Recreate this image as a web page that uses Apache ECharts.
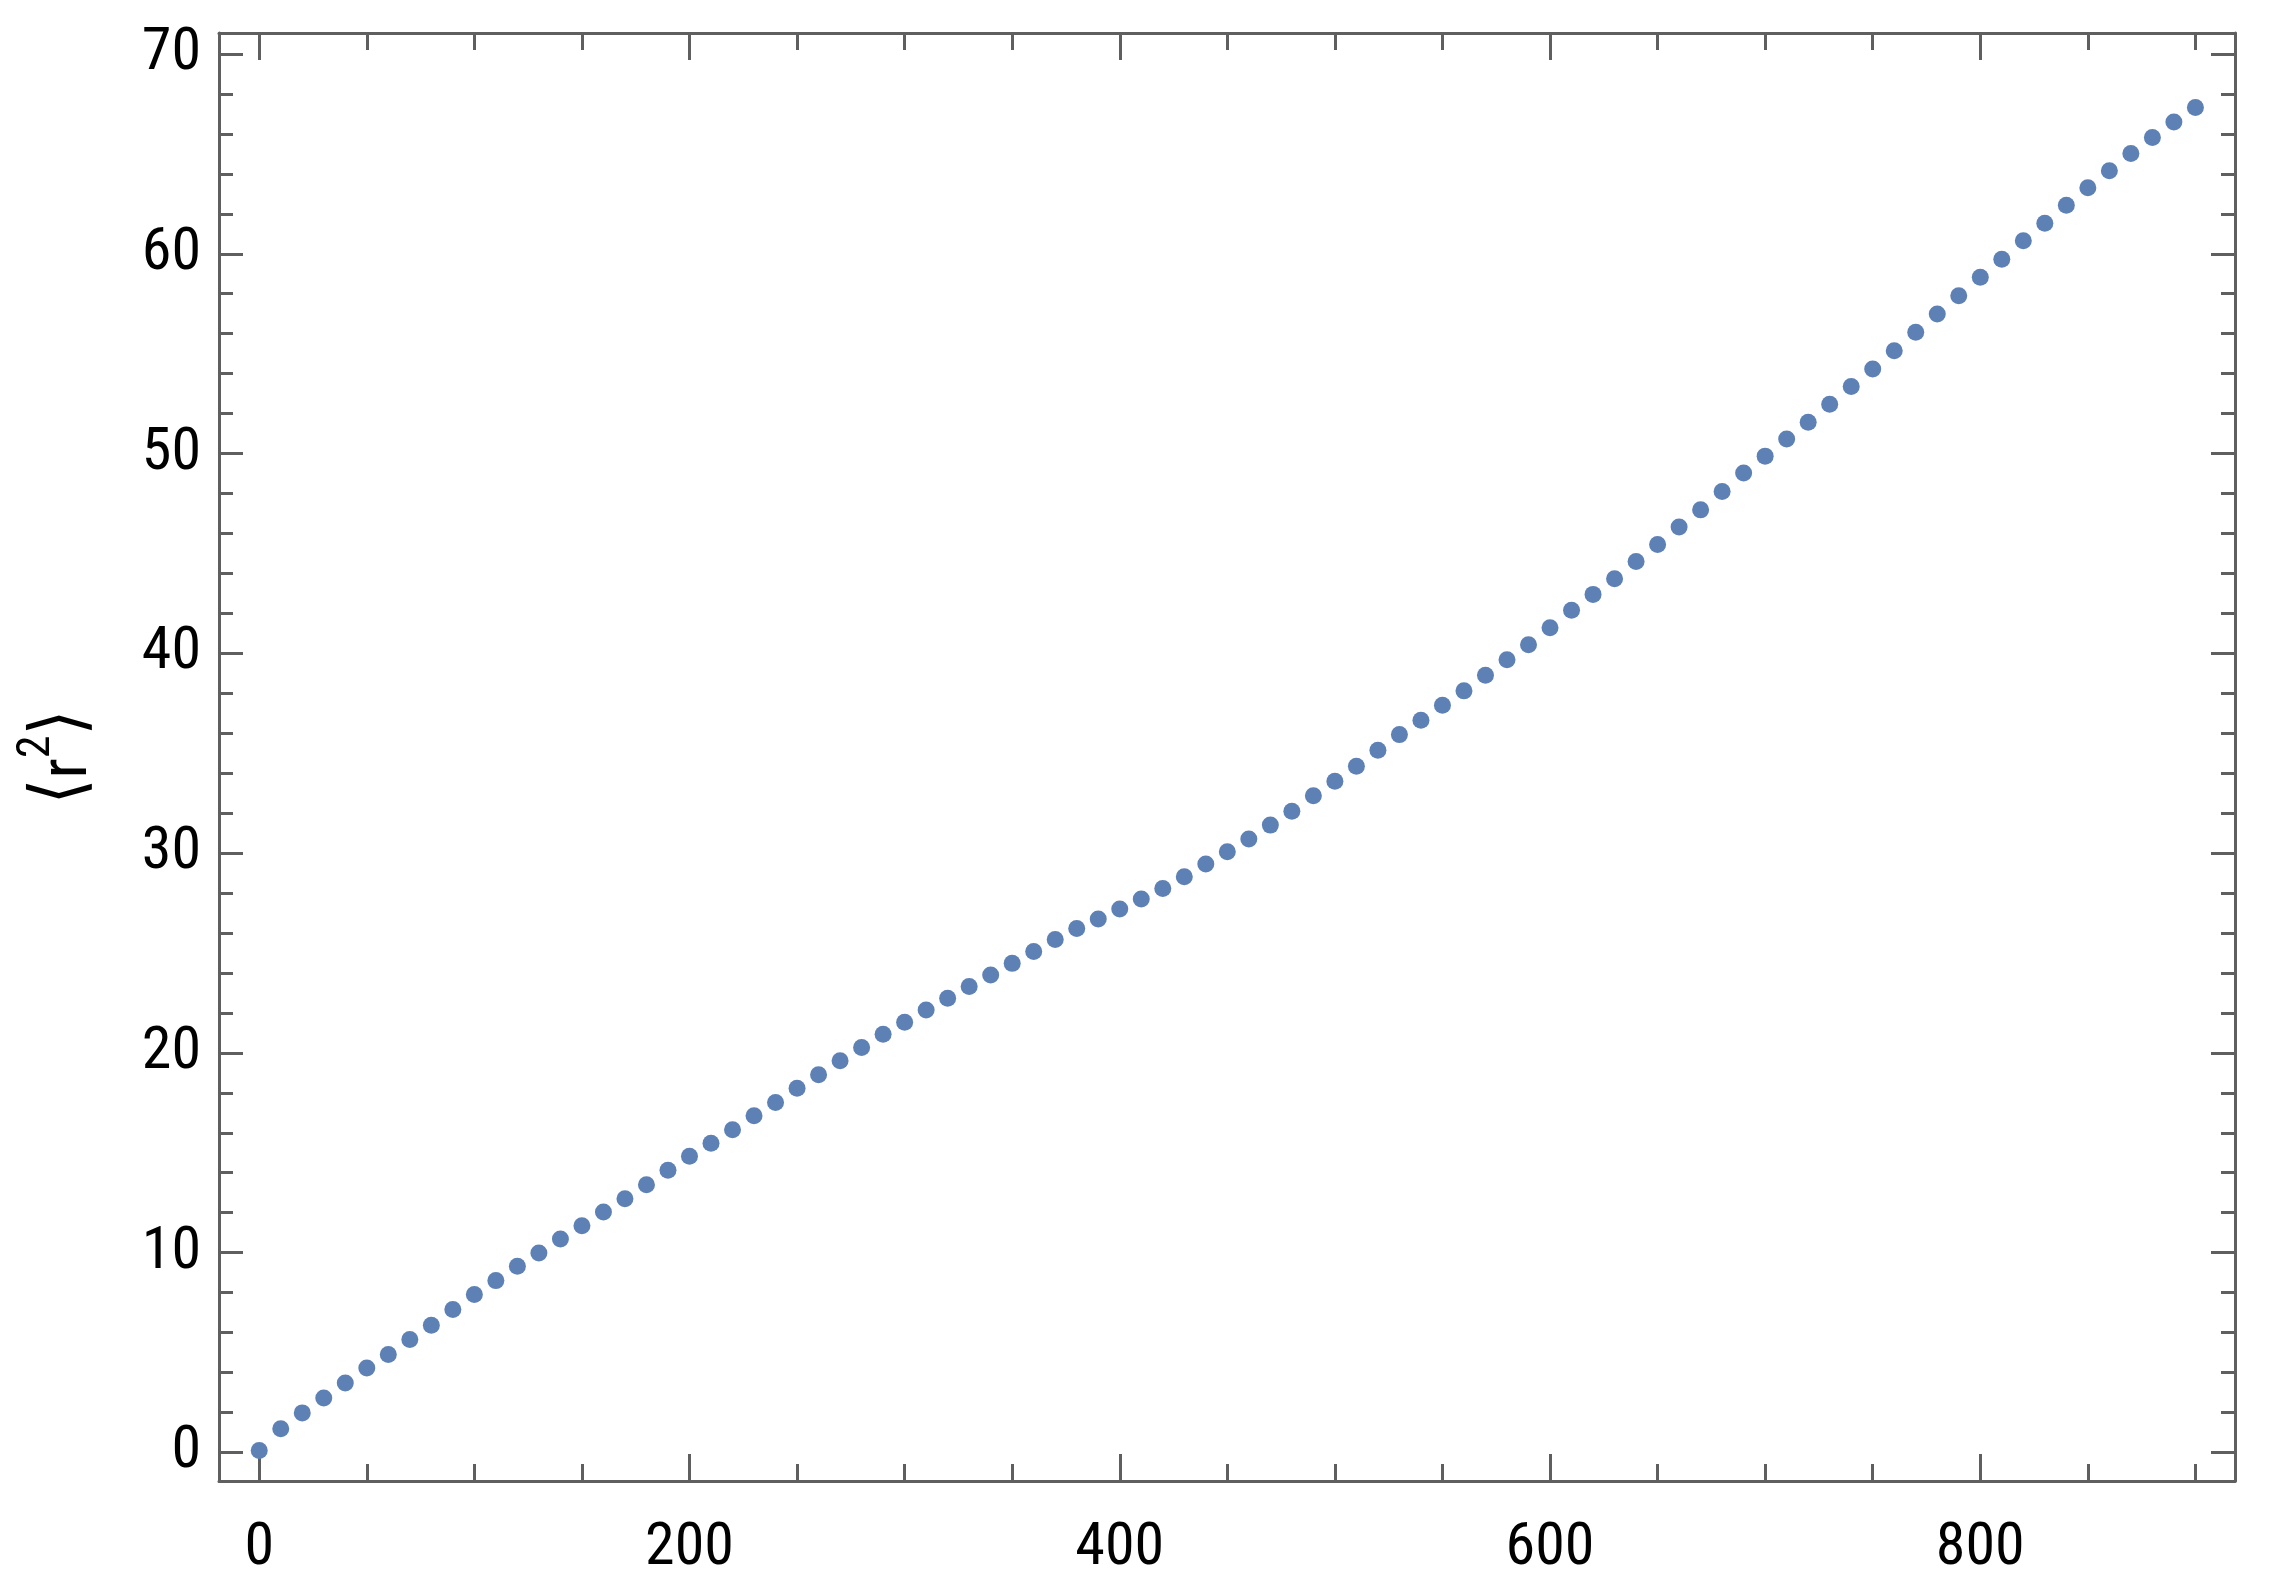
<!DOCTYPE html>
<html>
<head>
<meta charset="utf-8">
<script src="https://cdn.jsdelivr.net/npm/echarts@6/dist/echarts.min.js"></script>
<style>
html,body{margin:0;padding:0;background:#fff;}
#chart{width:2269px;height:1590px;}
</style>
</head>
<body>
<div id="chart"></div>
<script>
// ---- data ----
const xValues = [0,10,20,30,40,50,60,70,80,90,100,110,120,130,140,150,160,170,180,190,
  200,210,220,230,240,250,260,270,280,290,300,310,320,330,340,350,360,370,380,390,
  400,410,420,430,440,450,460,470,480,490,500,510,520,530,540,550,560,570,580,590,
  600,610,620,630,640,650,660,670,680,690,700,710,720,730,740,750,760,770,780,790,
  800,810,820,830,840,850,860,870,880,890,900];
const r2Values = [0.1,1.18,1.98,2.73,3.48,4.23,4.9,5.65,6.37,7.15,
  7.9,8.6,9.32,9.98,10.68,11.35,12.03,12.7,13.4,14.12,
  14.82,15.48,16.15,16.85,17.52,18.23,18.9,19.6,20.27,20.93,
  21.53,22.15,22.73,23.32,23.9,24.48,25.07,25.68,26.23,26.7,
  27.2,27.7,28.23,28.82,29.45,30.07,30.7,31.4,32.1,32.87,
  33.6,34.35,35.15,35.93,36.65,37.4,38.12,38.9,39.68,40.43,
  41.28,42.15,42.95,43.73,44.6,45.45,46.32,47.18,48.1,49.02,
  49.87,50.73,51.57,52.47,53.35,54.23,55.15,56.07,56.98,57.9,
  58.82,59.73,60.65,61.53,62.43,63.3,64.15,65.02,65.82,66.6,67.32];
const xMajorTicks = [0,200,400,600,800];
const xMinorTicks = [50,100,150,250,300,350,450,500,550,650,700,750,850,900];
const yMajorTicks = [0,10,20,30,40,50,60,70];
const yMinorTicks = [2,4,6,8,12,14,16,18,22,24,26,28,32,34,36,38,42,44,46,48,52,54,56,58,62,64,66,68];
const yAxisTitle = '{br|\u27E8}{b|r}{sup|2}{br|\u27E9}';

// ---- layout / style ----
const X_MIN = -18.7, X_MAX = 918.4;
const Y_MIN = -1.43, Y_MAX = 71.05;
const frameColor = '#5f5f5f';
const labelFont = "Roboto, 'DejaVu Sans', sans-serif";
const condensed = 'condensed';

function xAxisDef(position, ticks, len, withLine, withLabels) {
  return {
    type: 'value', position: position, min: X_MIN, max: X_MAX,
    splitLine: {show: false},
    axisLine: {show: withLine, onZero: false, lineStyle: {color: frameColor, width: 3}},
    axisTick: {show: true, inside: true, length: len, customValues: ticks,
      lineStyle: {color: frameColor, width: 3}},
    axisLabel: {show: withLabels, customValues: ticks, margin: 38,
      fontSize: 60, fontStyle: condensed, color: '#000', fontFamily: labelFont}
  };
}
function yAxisDef(position, ticks, len, withLine, withLabels, name) {
  const a = {
    type: 'value', position: position, min: Y_MIN, max: Y_MAX,
    splitLine: {show: false},
    axisLine: {show: withLine, onZero: false, lineStyle: {color: frameColor, width: 3}},
    axisTick: {show: true, inside: true, length: len, customValues: ticks,
      lineStyle: {color: frameColor, width: 3}},
    axisLabel: {show: withLabels, customValues: ticks, margin: 18,
      fontSize: 60, fontStyle: condensed, color: '#000', fontFamily: labelFont}
  };
  if (name) {
    a.name = name;
    a.nameLocation = 'middle';
    a.nameRotate = 90;
    a.nameGap = 117;
    a.nameTextStyle = {
      color: '#000',
      rich: {
        br: {fontSize: 74, fontStyle: condensed, fontFamily: labelFont, color: '#000', verticalAlign: 'bottom', padding: [0, 0, 2, 0]},
        b: {fontSize: 66, fontStyle: condensed, fontFamily: labelFont, color: '#000', verticalAlign: 'bottom'},
        sup: {fontSize: 46, fontStyle: condensed, fontFamily: labelFont, color: '#000', verticalAlign: 'bottom', padding: [0, 0, 42, 0]}
      }
    };
  }
  return a;
}

const chart = echarts.init(document.getElementById('chart'), null, {renderer: 'canvas'});
chart.setOption({
  animation: false,
  backgroundColor: '#fff',
  grid: {left: 219, right: 34, top: 33, bottom: 109, containLabel: false, outerBoundsMode: 'none'},
  xAxis: [
    xAxisDef('bottom', xMajorTicks, 27, true, true),
    xAxisDef('bottom', xMinorTicks, 17, false, false),
    xAxisDef('top', xMajorTicks, 27, true, false),
    xAxisDef('top', xMinorTicks, 17, false, false)
  ],
  yAxis: [
    yAxisDef('left', yMajorTicks, 24, true, true, yAxisTitle),
    yAxisDef('left', yMinorTicks, 14, false, false),
    yAxisDef('right', yMajorTicks, 24, true, false),
    yAxisDef('right', yMinorTicks, 14, false, false)
  ],
  series: [{
    type: 'scatter',
    xAxisIndex: 0, yAxisIndex: 0,
    symbol: 'circle', symbolSize: 17,
    itemStyle: {color: '#5E81B5', opacity: 1},
    data: xValues.map((x, i) => [x, r2Values[i]])
  }]
});
</script>
</body>
</html>
